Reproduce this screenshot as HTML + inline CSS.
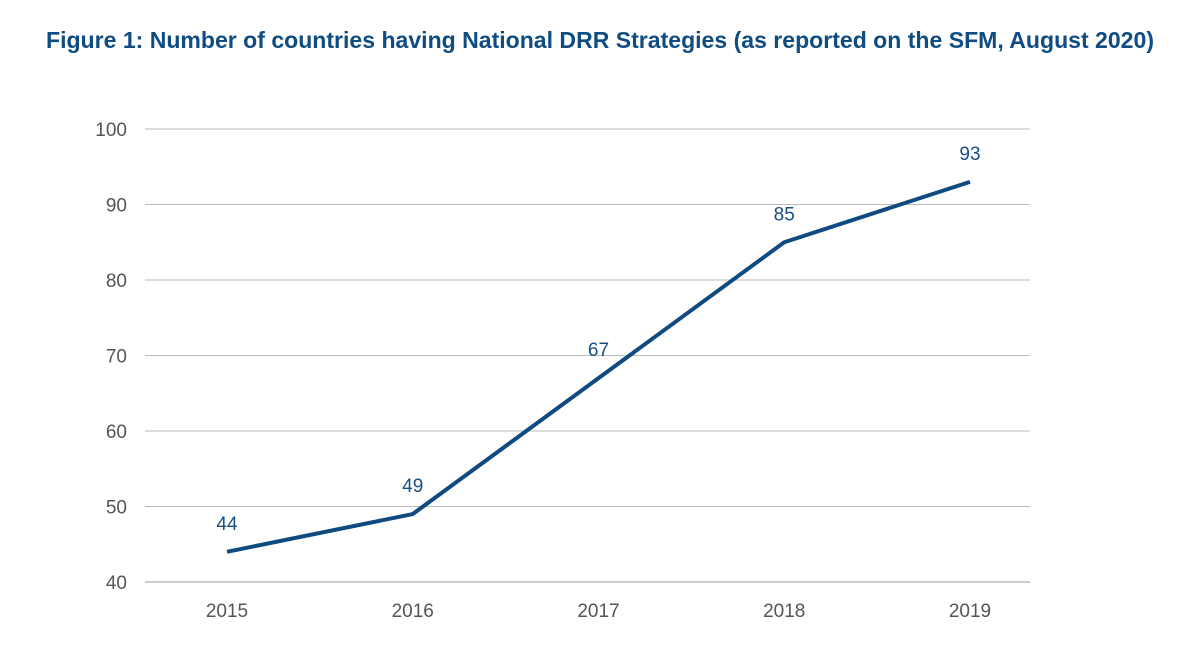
<!DOCTYPE html>
<html><head><meta charset="utf-8"><style>
html,body{margin:0;padding:0;background:#fff;}
svg{display:block;font-family:"Liberation Sans",sans-serif;}
</style></head><body>
<svg width="1200" height="649">
<text x="600" y="48" text-anchor="middle" font-size="23" font-weight="bold" fill="#0f4c81" textLength="1108" lengthAdjust="spacingAndGlyphs">Figure 1: Number of countries having National DRR Strategies (as reported on the SFM, August 2020)</text>
<g id="grid"></g>
<g id="yt"></g>
<g id="xt"></g>
<g id="series"></g>
</svg>
<script>
const categories=["2015","2016","2017","2018","2019"];
const values=[44,49,67,85,93];
const yTicks=[40,50,60,70,80,90,100];
const ns="http://www.w3.org/2000/svg";
const y=v=>582-(v-40)*(582-129)/60;
const x=i=>227+i*185.75;
function mk(t,a,p){const e=document.createElementNS(ns,t);for(const k in a)e.setAttribute(k,a[k]);p.appendChild(e);return e;}
const grid=document.getElementById('grid'),yt=document.getElementById('yt'),xt=document.getElementById('xt'),s=document.getElementById('series');
yTicks.forEach(v=>{
 const l=mk('line',{x1:145,x2:1030,y1:y(v),y2:y(v),stroke:v===40?'#999':'#bbb','stroke-width':1},grid);
 
 
 const t=mk('text',{x:127,y:y(v)+7,'text-anchor':'end','font-size':19,fill:'#555'},yt);
 t.textContent=v;
 
 
});
categories.forEach((c,i)=>{
 const t=mk('text',{x:x(i),y:617,'text-anchor':'middle','font-size':19,fill:'#555'},xt);
 t.textContent=c;
 
 
});
const pl=mk('polyline',{points:values.map((v,i)=>x(i)+','+y(v)).join(' '),fill:'none',stroke:'#0f4a80','stroke-width':4,'stroke-linejoin':'round'},s);


values.forEach((v,i)=>{
 const t=mk('text',{x:x(i),y:y(v)-22,'text-anchor':'middle','font-size':19,fill:'#1a4f86'},s);
 t.textContent=v;
 
 
});
</script>
</body></html>
